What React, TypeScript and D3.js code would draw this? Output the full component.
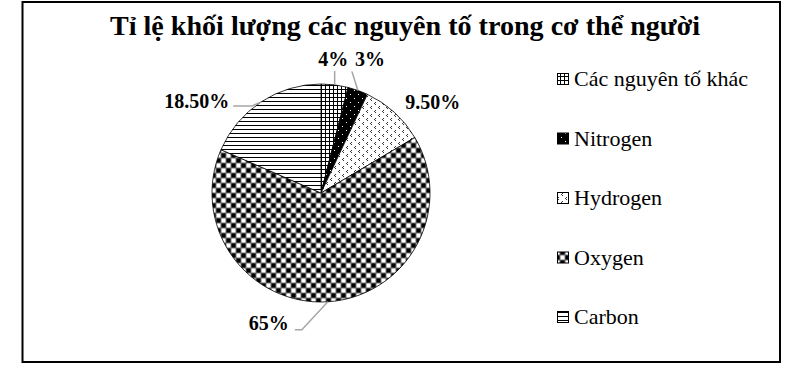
import React from "react";
import * as d3 from "d3";

const TITLE = "Tỉ lệ khối lượng các nguyên tố trong cơ thể người";
const categories = ["Các nguyên tố khác", "Nitrogen", "Hydrogen", "Oxygen", "Carbon"];
const values = [4, 3, 9.5, 65, 18.5];
const valueLabels = ["4%", "3%", "9.50%", "65%", "18.50%"];
const patternIds = ["pGrid", "pNitro", "pHydro", "pOxy", "pCarbon"];

// label layout, relative to each slice's outer-edge midpoint
const labelLayout = [
  { dx: -1.5, dy: -19, anchor: "middle", leader: [[0, -14]] },
  { dx: 12, dy: -24, anchor: "middle", leader: [[-6, -19]] },
  { dx: 11, dy: -3, anchor: "start", leader: [] },
  { dx: -39, dy: 28, anchor: "end", leader: [[-26, 28], [-33, 28]] },
  { dx: -32, dy: 6, anchor: "end", leader: [[-9, 4], [-28, 4]] },
];

const W = 807;
const H = 383;
const cx = 321;
const cy = 193;
const R = 109;
const SERIF = "'Liberation Serif', 'Times New Roman', Times, serif";

export default function App() {
  const pie = d3.pie<number>().sort(null).value((d) => d)(values);
  const arc = d3.arc<d3.PieArcDatum<number>>().innerRadius(0).outerRadius(R);
  const legendY = d3.scalePoint<string>().domain(categories).range([79, 317]);

  return (
    <svg
      width={W}
      height={H}
      style={{ position: "absolute", left: 0, top: 0, background: "#fff", fontFamily: SERIF }}
    >
      <defs>
        <pattern id="pGrid" patternUnits="userSpaceOnUse" width={4} height={4}>
          <rect width={4} height={4} fill="#fff" />
          <rect x={0} y={0} width={1} height={4} fill="#000" />
          <rect x={0} y={0} width={4} height={1} fill="#000" />
        </pattern>
        <pattern id="pCarbon" patternUnits="userSpaceOnUse" width={4} height={4}>
          <rect width={4} height={4} fill="#fff" />
          <rect x={0} y={0} width={4} height={1} fill="#000" />
        </pattern>
        <pattern id="pNitro" patternUnits="userSpaceOnUse" width={8} height={8}>
          <rect width={8} height={8} fill="#000" />
          <rect x={1} y={1} width={1} height={1} fill="#fff" />
          <rect x={5} y={5} width={1} height={1} fill="#fff" />
        </pattern>
        <pattern id="pHydro" patternUnits="userSpaceOnUse" width={8} height={8}>
          <rect width={8} height={8} fill="#fff" />
          <rect x={2} y={1} width={1} height={1} fill="#333" />
          <rect x={1} y={2} width={1} height={1} fill="#333" />
          <rect x={2} y={3} width={1} height={1} fill="#333" />
          <rect x={6} y={5} width={1} height={1} fill="#333" />
          <rect x={5} y={6} width={1} height={1} fill="#333" />
          <rect x={6} y={7} width={1} height={1} fill="#333" />
        </pattern>
        <pattern id="pOxy" patternUnits="userSpaceOnUse" width={10} height={10}>
          <rect width={10} height={10} fill="#6e6e6e" />
          <rect x={0.5} y={0.5} width={4} height={4} fill="#000" />
          <rect x={5.5} y={0.5} width={4} height={4} fill="#fff" />
          <rect x={0.5} y={5.5} width={4} height={4} fill="#fff" />
          <rect x={5.5} y={5.5} width={4} height={4} fill="#000" />
        </pattern>
      </defs>

      <rect x={22.5} y={2} width={757.5} height={360} fill="#fff" stroke="#000" strokeWidth={2} />

      <text
        x={405}
        y={35}
        textAnchor="middle"
        fontSize={28}
        fontWeight="bold"
        fontFamily={SERIF}
        textLength={590}
        lengthAdjust="spacingAndGlyphs"
      >
        {TITLE}
      </text>

      <g transform={`translate(${cx},${cy})`}>
        {pie.map((p, i) => (
          <path key={i} d={arc(p) || ""} fill={`url(#${patternIds[i]})`} stroke="#000" strokeWidth={0.8} />
        ))}
        {pie.map((p, i) => {
          const a = (p.startAngle + p.endAngle) / 2;
          const ex = R * Math.sin(a);
          const ey = -R * Math.cos(a);
          const L = labelLayout[i];
          const pts: [number, number][] = [[ex, ey], ...L.leader.map(([dx, dy]) => [ex + dx, ey + dy] as [number, number])];
          return (
            <g key={"l" + i}>
              {L.leader.length > 0 && (
                <path d={d3.line()(pts) || ""} fill="none" stroke="#a6a6a6" strokeWidth={1.5} />
              )}
              <text
                x={ex + L.dx}
                y={ey + L.dy}
                textAnchor={L.anchor as any}
                fontSize={20}
                fontWeight="bold"
                fontFamily={SERIF}
              >
                {valueLabels[i]}
              </text>
            </g>
          );
        })}
      </g>

      <g>
        {categories.map((c, i) => {
          const y = legendY(c) as number;
          return (
            <g key={c}>
              <rect x={557.5} y={y - 5.5} width={11} height={11} fill={`url(#${patternIds[i]})`} stroke="#000" strokeWidth={1} />
              <text x={574} y={y + 7} fontSize={22} fontFamily={SERIF}>
                {c}
              </text>
            </g>
          );
        })}
      </g>
    </svg>
  );
}
